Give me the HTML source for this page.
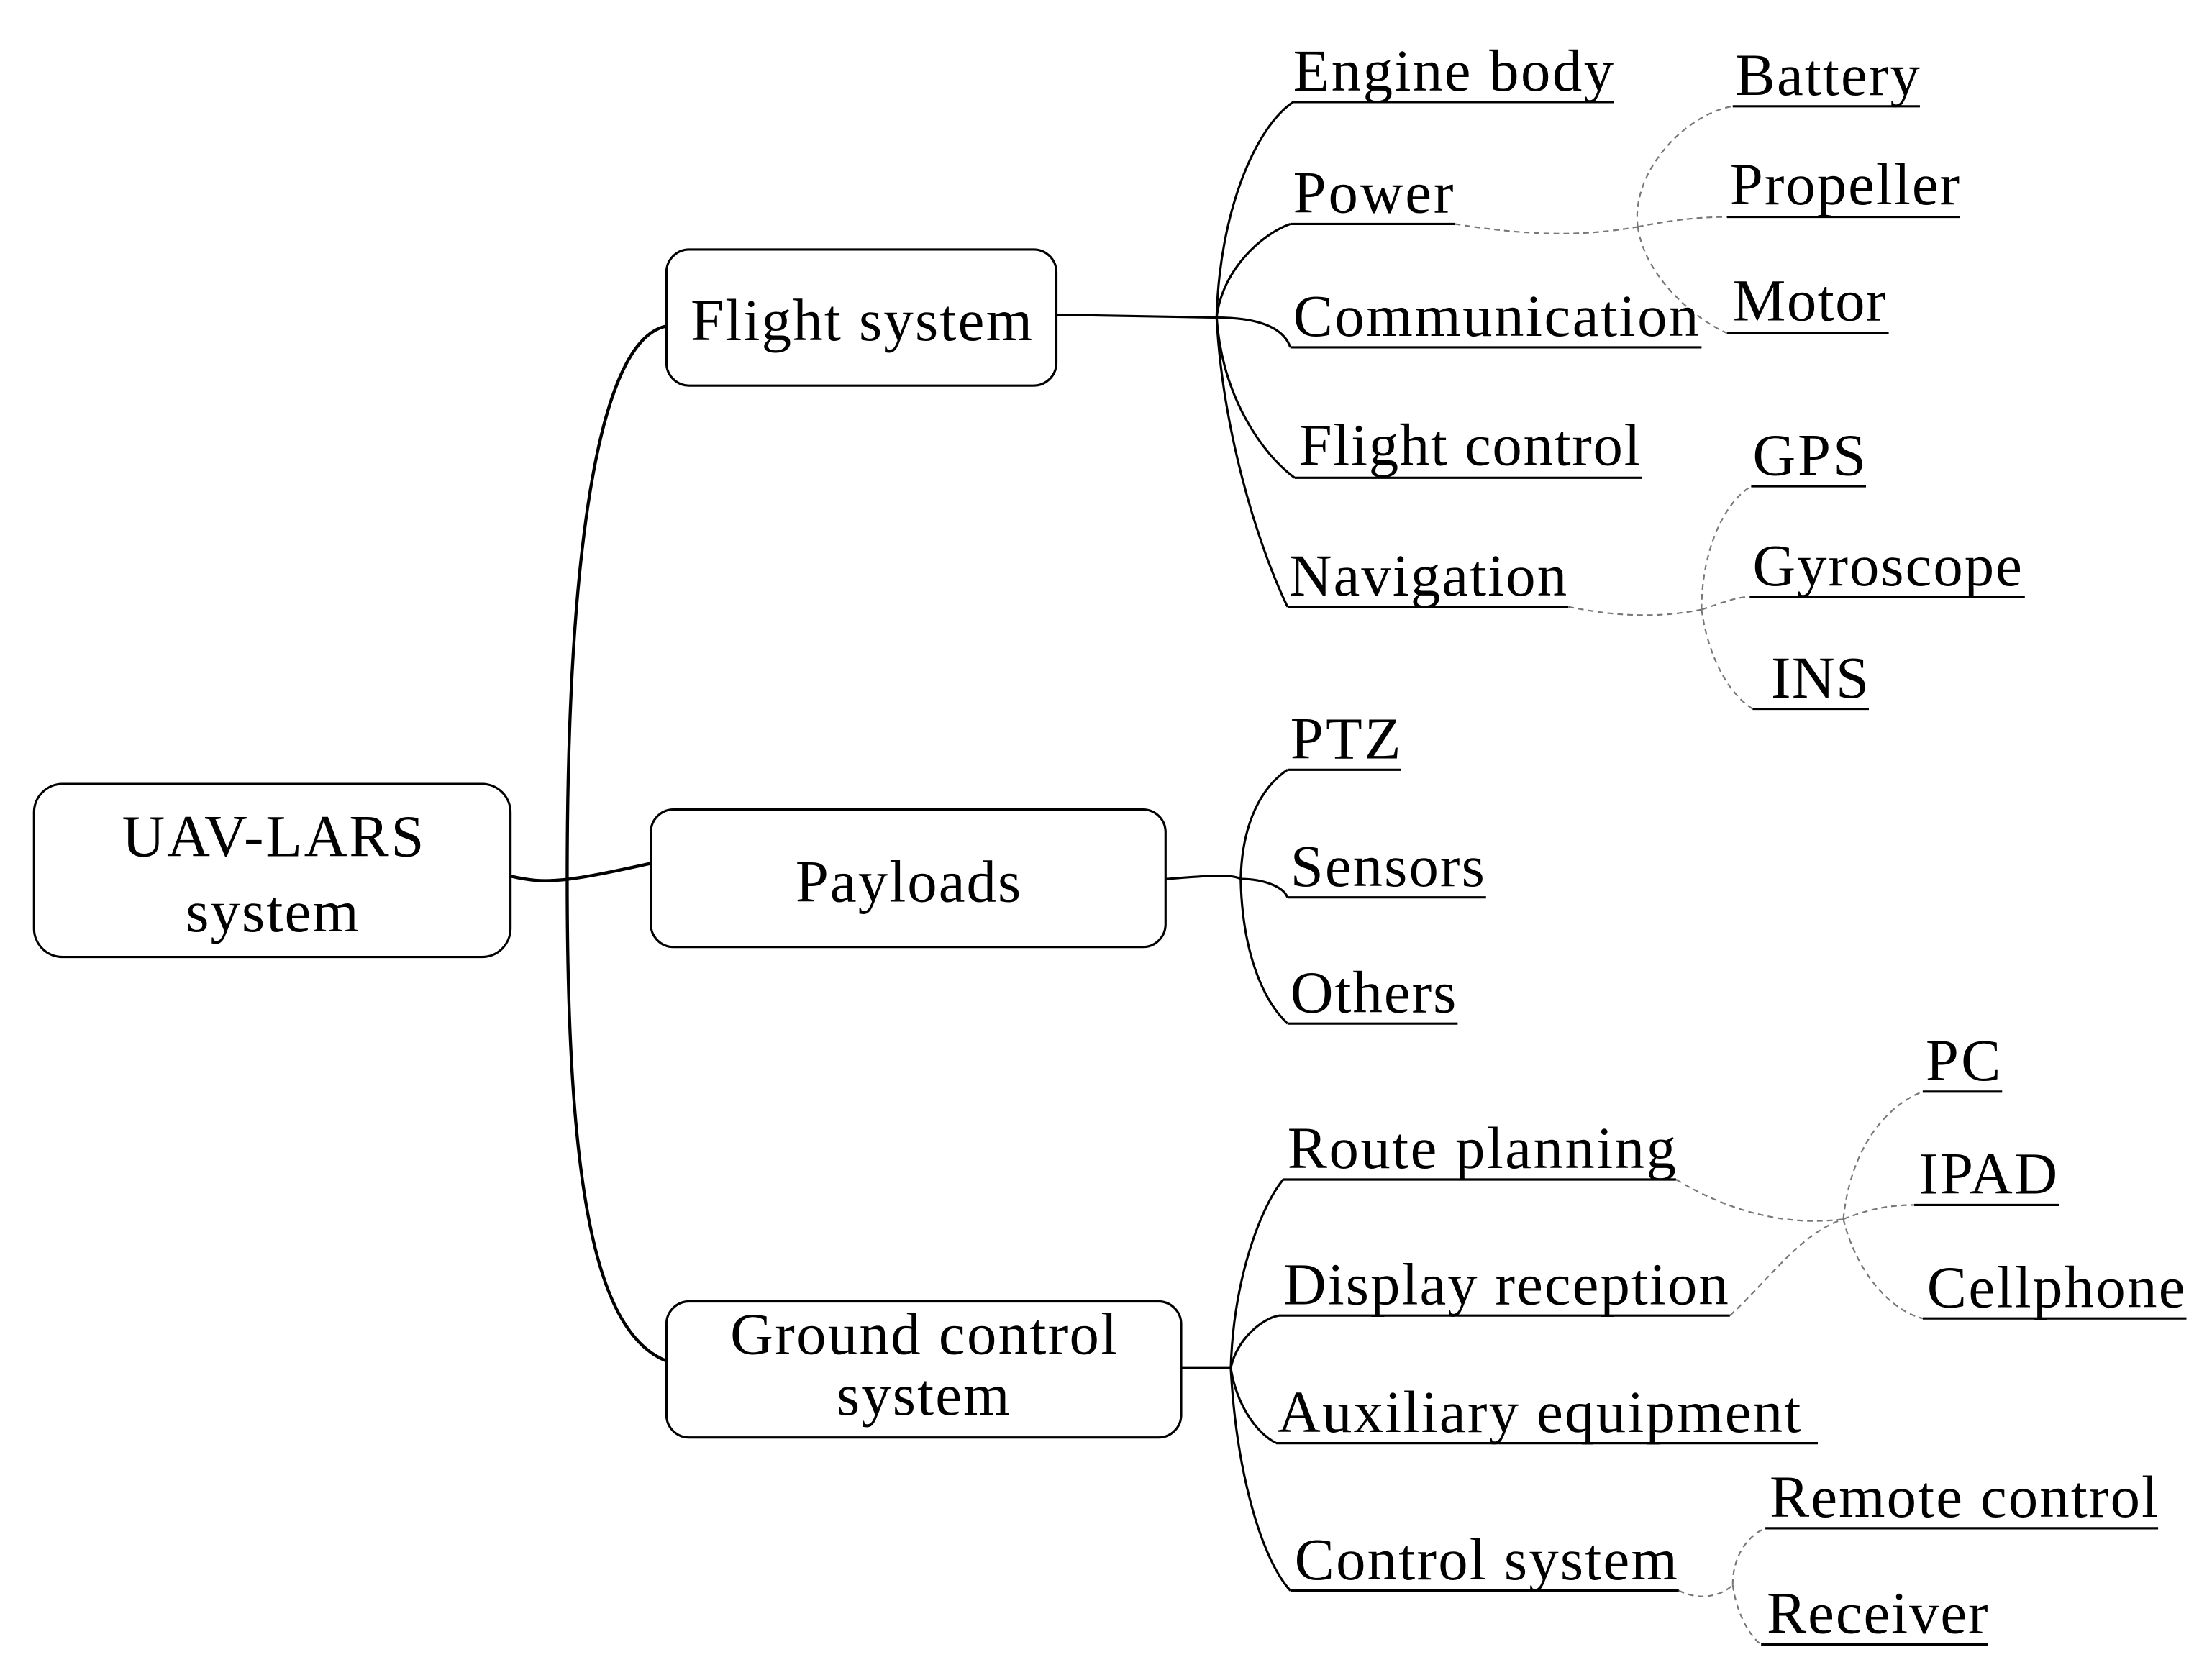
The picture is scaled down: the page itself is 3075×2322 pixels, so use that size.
<!DOCTYPE html>
<html><head><meta charset="utf-8"><style>
html,body{margin:0;padding:0;background:#fff;}
svg{display:block;}
text{font-family:"Liberation Serif",serif;font-size:42px;fill:#000;}
</style></head><body>
<svg width="3075" height="2322" viewBox="0 0 1560 1178" preserveAspectRatio="none" xmlns="http://www.w3.org/2000/svg">
<g fill="none" stroke="#000" stroke-width="1.6">
<rect x="24" y="553" width="336" height="122" rx="20"/>
<rect x="470" y="176" width="275" height="96" rx="16"/>
<rect x="459" y="571" width="363" height="97" rx="16"/>
<rect x="470" y="918" width="363" height="96" rx="16"/>
<path stroke-width="2.2" d="M470,230 C420,240 400,400 400,620 C400,840 420,940 470,960"/>
<path stroke-width="2.2" d="M360,618 C385,624 400,622 459,609"/>
<path d="M745,222 L858,224"/>
<path d="M858,224 C860,150 885,90 912,72"/>
<path d="M858,224 C862,190 890,165 910,158"/>
<path d="M858,224 C885,224 905,230 910,245"/>
<path d="M858,224 C862,280 890,320 913,337"/>
<path d="M858,224 C862,300 885,380 908,428"/>
<path d="M822,620 C850,618 868,616 875,620"/>
<path d="M875,620 C876,580 890,555 908,543"/>
<path d="M875,620 C890,620 905,625 908,633"/>
<path d="M875,620 C876,670 890,705 908,722"/>
<path d="M833,965 L868,965"/>
<path d="M868,965 C870,900 890,850 905,832"/>
<path d="M868,965 C872,945 890,930 902,928"/>
<path d="M868,965 C872,990 885,1010 900,1018"/>
<path d="M868,965 C872,1040 890,1100 910,1122"/>
<path d="M912,72H1138M910,158H1026M910,245H1200M913,337H1158M908,428H1106"/>
<path d="M1222,75H1354M1218,153H1382M1218,235H1332"/>
<path d="M1235,343H1316M1234,421H1428M1236,500H1318"/>
<path d="M908,543H988M908,633H1048M908,722H1028"/>
<path d="M905,832H1182M902,928H1220M900,1018H1282M910,1122H1184"/>
<path d="M1356,770H1412M1350,850H1452M1356,930H1542"/>
<path d="M1245,1078H1522M1242,1160H1402"/>
</g>
<g fill="none" stroke="#777" stroke-width="1.1" stroke-dasharray="4,3">
<path d="M1026,158 C1070,165 1110,168 1155,160"/>
<path d="M1155,160 C1150,120 1190,80 1222,75"/>
<path d="M1155,160 C1180,155 1200,153 1218,153"/>
<path d="M1155,160 C1160,195 1195,225 1218,235"/>
<path d="M1106,428 C1140,435 1170,436 1200,430"/>
<path d="M1200,430 C1200,390 1215,355 1235,343"/>
<path d="M1200,430 C1215,425 1225,421 1234,421"/>
<path d="M1200,430 C1205,465 1220,490 1236,500"/>
<path d="M1182,832 C1220,855 1260,865 1300,860"/>
<path d="M1220,928 C1250,900 1270,870 1300,860"/>
<path d="M1300,860 C1305,810 1330,780 1356,770"/>
<path d="M1300,860 C1320,852 1335,850 1350,850"/>
<path d="M1300,860 C1310,900 1335,925 1356,930"/>
<path d="M1184,1122 C1200,1130 1215,1125 1222,1118"/>
<path d="M1222,1118 C1222,1095 1235,1082 1245,1078"/>
<path d="M1222,1118 C1225,1140 1235,1155 1242,1160"/>
</g>
<g lengthAdjust="spacingAndGlyphs">
<text x="86" y="604" textLength="213">UAV-LARS</text>
<text x="131" y="657" textLength="122">system</text>
<text x="487" y="240" textLength="241">Flight system</text>
<text x="561" y="636" textLength="159">Payloads</text>
<text x="515" y="955" textLength="273">Ground control</text>
<text x="590" y="998" textLength="122">system</text>
<text x="912" y="64" textLength="226">Engine body</text>
<text x="912" y="150" textLength="113">Power</text>
<text x="912" y="237" textLength="286">Communication</text>
<text x="916" y="328" textLength="241">Flight control</text>
<text x="909" y="420" textLength="196">Navigation</text>
<text x="1224" y="67" textLength="130">Battery</text>
<text x="1220" y="144" textLength="162">Propeller</text>
<text x="1222" y="226" textLength="108">Motor</text>
<text x="1236" y="335" textLength="80">GPS</text>
<text x="1236" y="413" textLength="190">Gyroscope</text>
<text x="1249" y="492" textLength="69">INS</text>
<text x="910" y="535" textLength="78">PTZ</text>
<text x="910" y="625" textLength="137">Sensors</text>
<text x="910" y="714" textLength="117">Others</text>
<text x="908" y="824" textLength="274">Route planning</text>
<text x="905" y="920" textLength="314">Display reception</text>
<text x="901" y="1010" textLength="369">Auxiliary equipment</text>
<text x="913" y="1114" textLength="270">Control system</text>
<text x="1358" y="762" textLength="53">PC</text>
<text x="1353" y="842" textLength="98">IPAD</text>
<text x="1359" y="922" textLength="182">Cellphone</text>
<text x="1248" y="1070" textLength="274">Remote control</text>
<text x="1246" y="1152" textLength="156">Receiver</text>
</g>
</svg>
</body></html>
